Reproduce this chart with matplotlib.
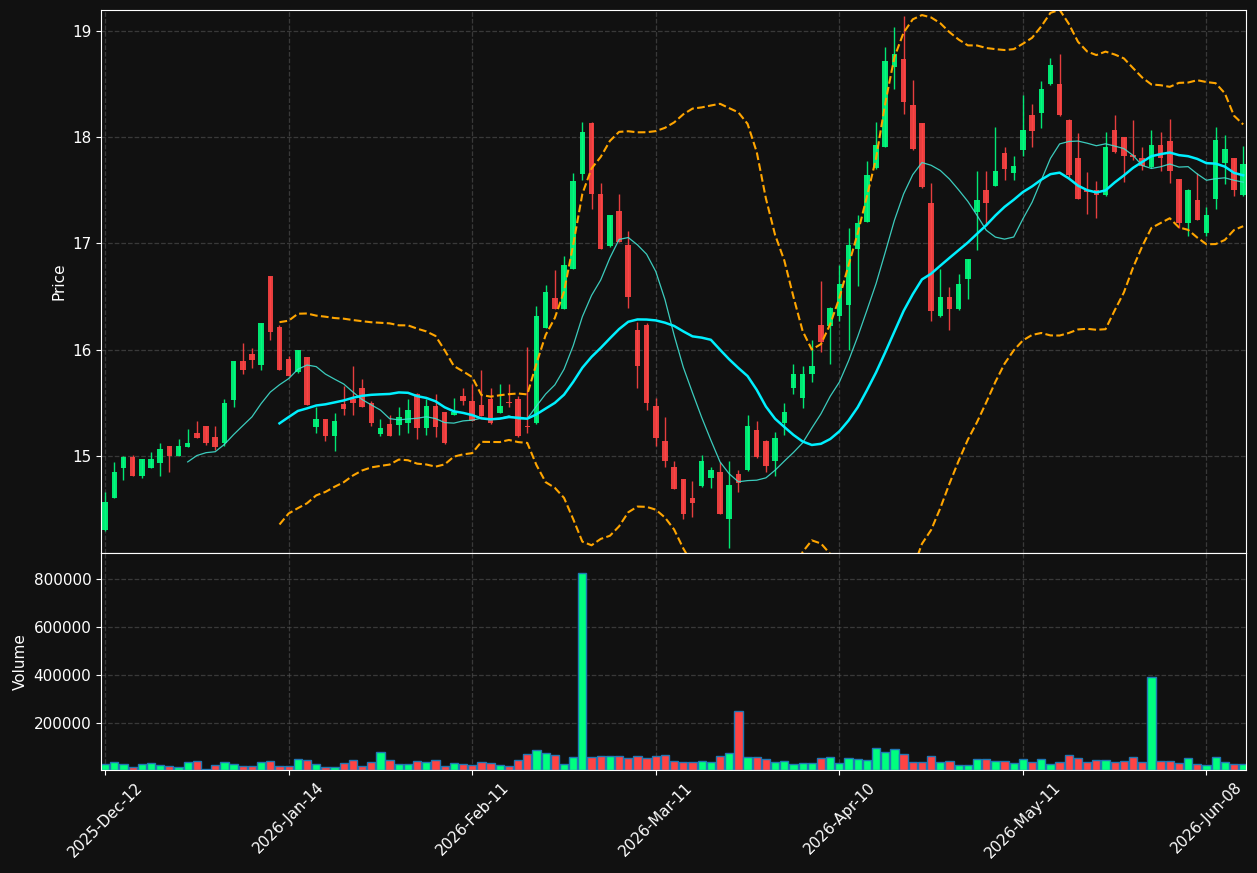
import numpy as np
import pandas as pd
import matplotlib
matplotlib.use("Agg")
import matplotlib.pyplot as plt

# candle data, one entry per trading day
opens = [14.30, 14.60, 14.89, 14.99, 14.81, 14.89, 14.93, 15.09, 15.00, 15.08,
         15.22, 15.28, 15.18, 15.12, 15.53, 15.89, 15.96, 15.86, 16.69, 16.21,
         15.91, 15.79, 15.93, 15.27, 15.35, 15.19, 15.49, 15.54, 15.64, 15.50,
         15.21, 15.30, 15.29, 15.31, 15.58, 15.26, 15.47, 15.41, 15.39, 15.56,
         15.52, 15.48, 15.54, 15.40, 15.505, 15.54, 15.28, 15.31, 16.20, 16.49,
         16.38, 16.76, 17.65, 18.13, 17.47, 16.98, 17.31, 16.99, 16.19, 16.23,
         15.47, 15.14, 14.90, 14.78, 14.60, 14.72, 14.79, 14.85, 14.41, 14.83,
         14.87, 15.24, 15.14, 14.95, 15.31, 15.64, 15.55, 15.77, 16.23, 16.22,
         16.32, 16.42, 16.95, 17.20, 17.71, 17.91, 18.66, 18.74, 18.30, 18.13,
         17.38, 16.32, 16.50, 16.38, 16.67, 17.30, 17.50, 17.54, 17.85, 17.66,
         17.88, 18.21, 18.23, 18.50, 18.50, 18.16, 17.80, 17.50, 17.50, 17.46,
         18.07, 18.00, 17.83, 17.80, 17.72, 17.93, 17.96, 17.61, 17.19, 17.41,
         17.10, 17.42, 17.76, 17.80, 17.46]
highs = [14.66, 14.94, 15.00, 15.01, 14.97, 15.04, 15.12, 15.09, 15.16, 15.25,
         15.33, 15.28, 15.28, 15.54, 15.89, 16.06, 16.02, 16.25, 16.69, 16.23,
         15.94, 16.00, 15.93, 15.46, 15.35, 15.40, 15.66, 15.85, 15.72, 15.52,
         15.35, 15.39, 15.46, 15.54, 15.59, 15.54, 15.58, 15.41, 15.55, 15.64,
         15.68, 15.81, 15.64, 15.68, 15.68, 15.56, 16.03, 16.41, 16.61, 16.75,
         16.88, 17.66, 18.14, 18.14, 17.57, 17.27, 17.47, 17.12, 16.26, 16.25,
         15.55, 15.37, 14.95, 14.78, 14.76, 15.01, 14.90, 14.94, 14.95, 14.87,
         15.39, 15.33, 15.15, 15.23, 15.50, 15.87, 15.85, 16.09, 16.65, 16.40,
         16.80, 17.15, 17.27, 17.78, 18.14, 18.85, 19.04, 19.14, 18.54, 18.13,
         17.57, 16.76, 16.59, 16.71, 16.85, 17.68, 17.68, 18.10, 17.91, 17.82,
         18.40, 18.31, 18.53, 18.75, 18.78, 18.17, 18.04, 17.67, 17.59, 18.05,
         18.21, 18.00, 18.16, 17.91, 18.07, 18.05, 18.17, 17.61, 17.51, 17.66,
         17.34, 18.10, 18.02, 17.80, 17.92]
lows = [14.29, 14.60, 14.77, 14.81, 14.79, 14.89, 14.81, 14.85, 15.00, 15.08,
        15.17, 15.10, 15.06, 15.09, 15.46, 15.77, 15.83, 15.81, 16.09, 15.81,
        15.75, 15.78, 15.48, 15.22, 15.14, 15.05, 15.39, 15.39, 15.46, 15.28,
        15.19, 15.19, 15.20, 15.22, 15.16, 15.20, 15.18, 15.11, 15.39, 15.48,
        15.33, 15.38, 15.30, 15.40, 15.46, 15.18, 15.22, 15.30, 16.20, 16.38,
        16.38, 16.76, 17.60, 17.32, 16.95, 16.97, 17.01, 16.39, 15.64, 15.43,
        15.09, 14.90, 14.69, 14.41, 14.43, 14.71, 14.70, 14.45, 14.13, 14.66,
        14.86, 14.98, 14.85, 14.81, 15.20, 15.58, 15.45, 15.70, 15.98, 15.87,
        16.27, 16.00, 16.60, 17.20, 17.70, 17.91, 18.45, 18.22, 17.88, 17.52,
        16.27, 16.31, 16.19, 16.37, 16.48, 16.94, 17.17, 17.54, 17.60, 17.60,
        17.82, 17.91, 18.09, 18.49, 18.20, 17.63, 17.42, 17.28, 17.24, 17.45,
        17.85, 17.58, 17.79, 17.69, 17.71, 17.68, 17.57, 17.15, 17.07, 17.22,
        17.07, 17.32, 17.56, 17.45, 17.45]
closes = [14.57, 14.85, 14.99, 14.81, 14.97, 14.97, 15.07, 15.00, 15.09, 15.12,
          15.17, 15.12, 15.08, 15.50, 15.89, 15.81, 15.90, 16.25, 16.17, 15.81,
          15.75, 16.00, 15.48, 15.35, 15.19, 15.33, 15.44, 15.50, 15.46, 15.31,
          15.26, 15.19, 15.37, 15.43, 15.26, 15.47, 15.27, 15.12, 15.41, 15.52,
          15.33, 15.38, 15.31, 15.47, 15.495, 15.19, 15.275, 16.32, 16.54, 16.38,
          16.80, 17.59, 18.05, 17.47, 16.95, 17.27, 17.01, 16.50, 15.85, 15.50,
          15.17, 14.95, 14.69, 14.45, 14.56, 14.95, 14.87, 14.45, 14.73, 14.75,
          15.28, 14.99, 14.91, 15.17, 15.41, 15.77, 15.77, 15.85, 16.07, 16.39,
          16.62, 16.99, 17.19, 17.64, 17.93, 18.72, 18.78, 18.33, 17.89, 17.53,
          16.36, 16.50, 16.38, 16.62, 16.85, 17.41, 17.38, 17.68, 17.70, 17.73,
          18.07, 18.06, 18.45, 18.68, 18.21, 17.64, 17.42, 17.48, 17.46, 17.91,
          17.86, 17.82, 17.81, 17.73, 17.93, 17.80, 17.68, 17.19, 17.50, 17.22,
          17.27, 17.97, 17.89, 17.50, 17.75]
volumes_k = [28, 36, 28, 15, 28, 32, 24, 20, 15, 36, 40, 7, 24, 36, 28, 20, 20, 36, 40, 20,
             20, 49, 45, 28, 15, 15, 32, 45, 20, 36, 78, 45, 28, 28, 40, 36, 45, 20, 32, 28,
             24, 36, 32, 24, 20, 45, 70, 87, 74, 66, 28, 57, 828, 57, 61, 61, 61, 53, 61, 53,
             61, 66, 40, 36, 36, 40, 36, 61, 74, 250, 57, 57, 49, 36, 40, 28, 32, 32, 53, 57,
             32, 53, 49, 45, 95, 78, 91, 70, 36, 36, 61, 36, 40, 24, 24, 49, 49, 40, 40, 32,
             49, 36, 49, 28, 36, 66, 53, 36, 45, 45, 36, 40, 57, 36, 392, 40, 40, 32, 53, 28,
             24, 57, 36, 28, 28]

tick_pos = [0, 20, 40, 60, 80, 100, 120]
tick_labels = ["2025-Dec-12", "2026-Jan-14", "2026-Feb-11", "2026-Mar-11",
               "2026-Apr-10", "2026-May-11", "2026-Jun-08"]

BG = "#111111"
UP = "#00ff7f"
DOWN = "#ff4444"


def main():
    df = pd.DataFrame({"open": opens, "high": highs, "low": lows,
                       "close": closes, "volume": np.array(volumes_k) * 1000})
    x = np.arange(len(df))
    ma10 = df["close"].rolling(10).mean()
    ma20 = df["close"].rolling(20).mean()
    std20 = df["close"].rolling(20).std(ddof=0)
    upper = ma20 + 2 * std20
    lower = ma20 - 2 * std20

    up = df["close"] >= df["open"]
    colors = np.where(up, UP, DOWN)

    fig = plt.figure(figsize=(12.57, 8.73), dpi=100, facecolor=BG)
    ax1 = fig.add_axes([0.0804, 0.3666, 0.9108, 0.622])
    ax2 = fig.add_axes([0.0804, 0.118, 0.9108, 0.2486], sharex=ax1)

    for ax in (ax1, ax2):
        ax.set_facecolor(BG)
        for s in ax.spines.values():
            s.set_color("white")
        ax.tick_params(colors="white", labelsize=11)
        ax.grid(True, linestyle="--", color="#555555", alpha=0.6, linewidth=0.9)
        ax.set_axisbelow(True)

    # candles
    body = (df["close"] - df["open"]).abs().clip(lower=0.008)
    bottom = df[["open", "close"]].min(axis=1)
    ax1.vlines(x, df["low"], df["high"], colors=colors, linewidth=1, alpha=0.9)
    ax1.bar(x, body, bottom=bottom, width=0.6, color=colors, alpha=0.9)

    ax1.plot(x, ma10, color="#40e0d0", linewidth=0.9, alpha=0.9)
    ax1.plot(x, ma20, color="#00f0ff", linewidth=1.8)
    ax1.plot(x, upper, color="orange", linestyle="--", linewidth=1.5)
    ax1.plot(x, lower, color="orange", linestyle="--", linewidth=1.5)

    ax1.set_ylim(14.087, 19.198)
    ax1.set_ylabel("Price", color="white", fontsize=11)
    ax1.set_yticks([15, 16, 17, 18, 19])
    plt.setp(ax1.get_xticklabels(), visible=False)

    # volume
    ax2.bar(x, df["volume"], width=0.9, color=colors, edgecolor="#1f77b4", linewidth=1)
    ax2.set_ylim(2000, df["volume"].max() * 1.1)
    ax2.set_ylabel("Volume", color="white", fontsize=11)
    ax2.set_xlim(-0.44, 124.3)
    ax2.set_xticks(tick_pos)
    ax2.set_xticklabels(tick_labels, rotation=45)

    fig.savefig("out.png", dpi=100, facecolor=BG)


if __name__ == "__main__":
    main()
